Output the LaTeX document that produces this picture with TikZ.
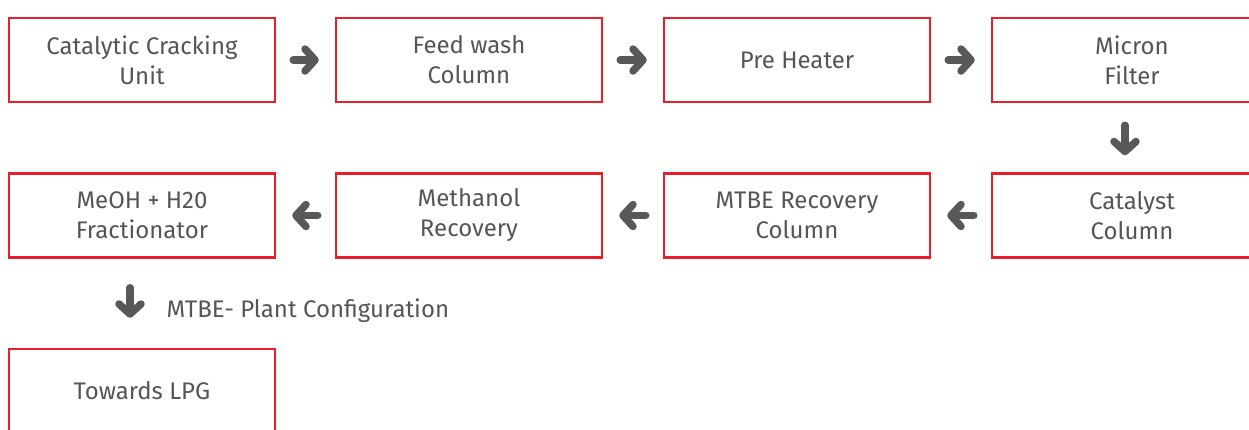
\documentclass[tikz,border=0pt]{standalone}
\usepackage{fontspec}
\setmainfont{Fira Sans}
\usetikzlibrary{arrows.meta,positioning}
\definecolor{boxred}{RGB}{232,30,42}
\definecolor{txt}{RGB}{85,85,85}
\definecolor{icon}{RGB}{88,88,90}
\tikzset{
  unit/.style={rectangle,draw=boxred,line width=2.5pt,minimum width=266pt,minimum height=84pt,
    align=center,text=txt,font=\fontsize{24}{30}\selectfont},
  wideunit/.style={unit,minimum width=280pt},
  flow/.style={-{Straight Barb[round,length=10pt,width=22pt]},line width=7.5pt,line cap=round,draw=icon},
  flowh/.style={flow,shorten <=17pt,shorten >=16pt},
  note/.style={text=txt,font=\fontsize{24}{30}\selectfont},
}
\begin{document}
\begin{tikzpicture}[x=1pt,y=-1pt]
\useasboundingbox (0,0) rectangle (1249,429);
\clip (0,0) rectangle (1249,429);
% top row
\node[unit] (ccu) at (142,60) {Catalytic Cracking\\Unit};
\node[unit] (fwc) at (469,60) {Feed wash\\Column};
\node[unit] (ph) at (797,60) {Pre Heater};
\node[wideunit] (mf) at (1132,60) {Micron\\Filter};
% second row
\node[wideunit] (cat) at (1132,215.5) {Catalyst\\Column};
\node[unit] (mtbe) at (797,215.5) {MTBE Recovery\\Column};
\node[unit] (mr) at (469,215.5) {Methanol\\Recovery};
\node[unit] (frac) at (142,215.5) {MeOH + H20\\Fractionator};
% bottom
\node[unit] (lpg) at (142,391) {Towards LPG};
\node[note,anchor=west] (cfg) at (163,311) {MTBE- Plant Configuration};

\draw[flowh] (ccu) -- (fwc);
\draw[flowh] (fwc) -- (ph);
\draw[flowh] (ph) -- (mf);
\draw[flow,shorten <=22pt,shorten >=17pt] ([xshift=-7pt]mf.south) -- ([xshift=-7pt]cat.north);
\draw[flowh] (cat) -- (mtbe);
\draw[flowh] (mtbe) -- (mr);
\draw[flowh] (mr) -- (frac);
\draw[flow,shorten <=29pt,shorten >=30pt] ([xshift=-12pt]frac.south) -- ([xshift=-12pt]lpg.north);
\end{tikzpicture}
\end{document}
